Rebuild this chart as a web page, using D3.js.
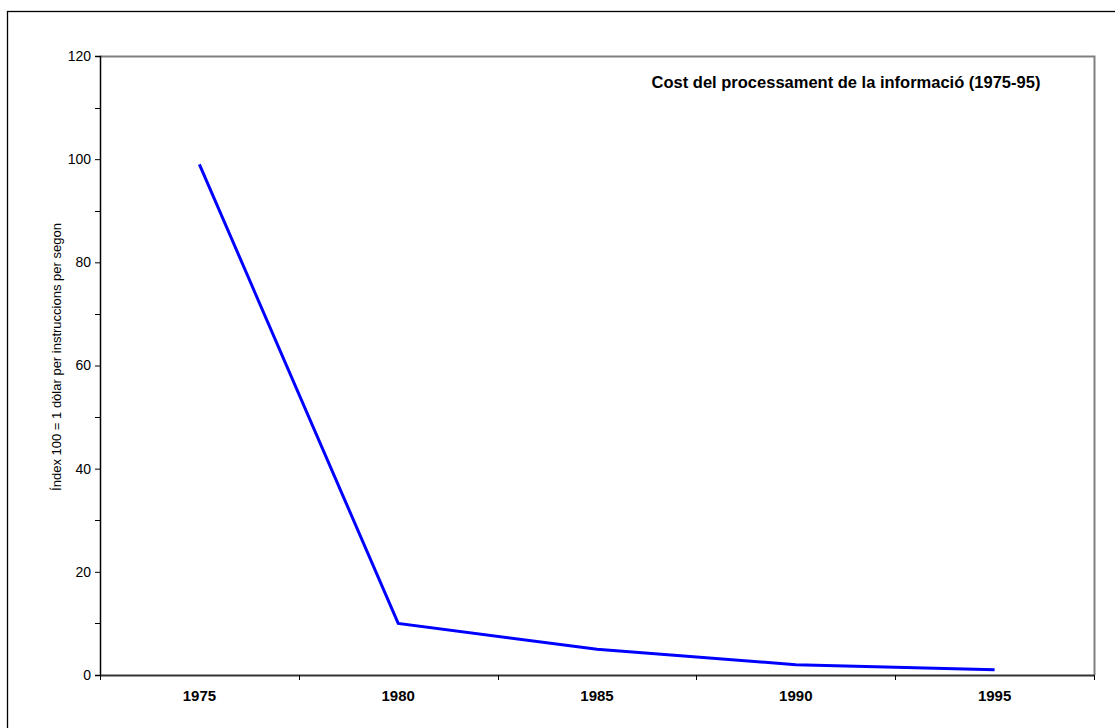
<!DOCTYPE html>
<html>
<head>
<meta charset="utf-8">
<script src="https://cdn.jsdelivr.net/npm/d3@7"></script>
<style>
  body { margin: 0; background: #fff; }
  svg { display: block; font-family: "Liberation Sans", Arial, sans-serif; }
</style>
</head>
<body>
<svg width="1115" height="728"></svg>
<script>
var years = ["1975", "1980", "1985", "1990", "1995"];
var costIndex = [99, 10, 5, 2, 1];
var yTicks = [0, 20, 40, 60, 80, 100, 120];
var chartTitle = "Cost del processament de la informació (1975-95)";
var yTitle = "Índex 100 = 1 dòlar per instruccions per segon";

var svg = d3.select("svg"),
    plotL = 100, plotT = 56, plotR = 1094, plotB = 675;

// outer chart frame (right/bottom edges run off the picture)
svg.append("rect")
    .attr("x", 7.5).attr("y", 11.5)
    .attr("width", 1200).attr("height", 800)
    .attr("fill", "none").attr("stroke", "#000").attr("stroke-width", 1.3);

var x = d3.scaleBand().domain(years).range([plotL, plotR]);
var y = d3.scaleLinear().domain([0, 120]).range([plotB, plotT]);

// plot area border (gray top/right)
svg.append("path")
    .attr("d", "M" + plotL + "," + (plotT + 0.5) + "H" + (plotR + 0.5) + "V" + plotB)
    .attr("fill", "none").attr("stroke", "#808080").attr("stroke-width", 2);

// y axis, minor ticks every 10
var minor = d3.range(10, 120, 20);
svg.append("g").selectAll("line").data(minor).enter().append("line")
    .attr("x1", plotL - 5).attr("x2", plotL)
    .attr("y1", function(d) { return Math.round(y(d)) + 0.5; }).attr("y2", function(d) { return Math.round(y(d)) + 0.5; })
    .attr("stroke", "#000");

var yAxis = svg.append("g")
    .attr("transform", "translate(" + plotL + ",0)")
    .call(d3.axisLeft(y).tickValues(yTicks).tickSize(5).tickPadding(4).tickFormat(d3.format("d")));
yAxis.select(".domain").attr("stroke", "#000").attr("stroke-width", 1.5);
yAxis.selectAll("text").attr("font-size", 14).attr("fill", "#000").attr("font-family", "Liberation Sans, Arial, sans-serif");

// x axis, ticks between categories
var xAxis = svg.append("g")
    .attr("transform", "translate(0," + plotB + ")")
    .call(d3.axisBottom(x).tickSize(0).tickPadding(15));
xAxis.select(".domain").attr("stroke", "#333").attr("stroke-width", 2);
xAxis.selectAll("text").attr("font-size", 15).attr("font-weight", "bold").attr("fill", "#000")
    .attr("font-family", "Liberation Sans, Arial, sans-serif");
var edges = years.map(function(d) { return x(d); }).concat([plotR]);
xAxis.selectAll("line.sep").data(edges).enter().append("line")
    .attr("class", "sep")
    .attr("x1", function(d) { return Math.round(d) + 0.5; }).attr("x2", function(d) { return Math.round(d) + 0.5; })
    .attr("y1", 0).attr("y2", 5).attr("stroke", "#000");

// line
var line = d3.line()
    .x(function(d, i) { return x(years[i]) + x.bandwidth() / 2; })
    .y(function(d) { return y(d); });
svg.append("path")
    .datum(costIndex)
    .attr("d", line)
    .attr("fill", "none").attr("stroke", "#0000ff").attr("stroke-width", 3)
    .attr("stroke-linejoin", "miter");

// title
svg.append("text")
    .attr("x", 846).attr("y", 88)
    .attr("text-anchor", "middle").attr("font-size", 16.5).attr("font-weight", "bold")
    .text(chartTitle);

// y title
svg.append("text")
    .attr("transform", "translate(61,357) rotate(-90)")
    .attr("text-anchor", "middle").attr("font-size", 13)
    .text(yTitle);
</script>
</body>
</html>
